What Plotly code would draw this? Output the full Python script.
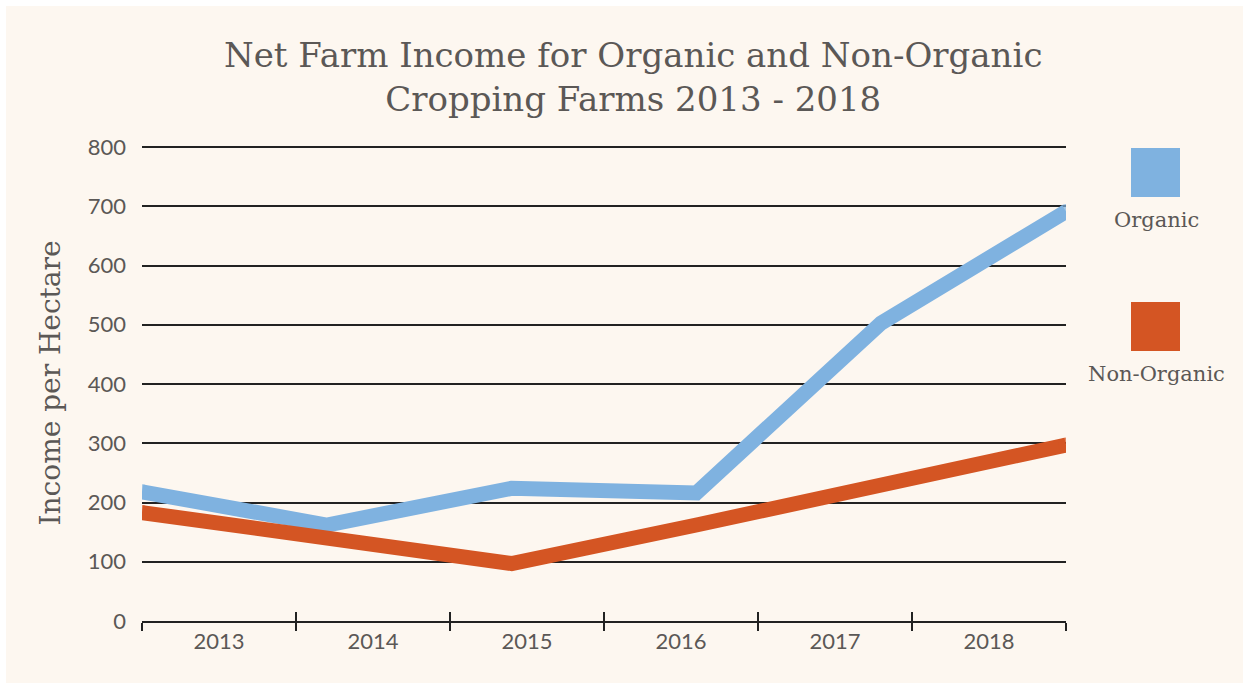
import plotly.graph_objects as go

years = ["2013", "2014", "2015", "2016", "2017", "2018"]
organic = [218, 162, 224, 216, 503, 691]
non_organic = [183, 137, 97, 162, 228, 297]
y_ticks = [0, 100, 200, 300, 400, 500, 600, 700, 800]

CREAM = "#FDF7F0"
GREY = "#5B5856"
BLUE = "#7FB2E0"
ORANGE = "#D45523"
SERIF = "DejaVu Serif, serif"
SANS = "Lato, Open Sans, sans-serif"

fig = go.Figure()

# dummy traces so the label axis (x) and the inner-tick axis (x3) render
fig.add_trace(go.Scatter(x=years, y=[None] * 6, xaxis="x", yaxis="y",
                         showlegend=False, hoverinfo="skip"))
fig.add_trace(go.Scatter(x=years, y=[None] * 6, xaxis="x3", yaxis="y",
                         showlegend=False, hoverinfo="skip"))

for name, vals, col in [("Organic", organic, BLUE), ("Non-Organic", non_organic, ORANGE)]:
    fig.add_trace(go.Scatter(
        x=years, y=vals, name=name, xaxis="x2", yaxis="y",
        mode="lines+markers",
        line=dict(color=col, width=15),
        marker=dict(color=col, size=[15, 0, 0, 0, 0, 15], line=dict(width=0)),
        showlegend=False, hoverinfo="x+y+name",
    ))

# plot area: bottom (value 0) at 621 px, value 800 at 147 px; add 2 px headroom on top
PLOT_TOP = 145
PLOT_BOT = 621
px_per_unit = (621 - 147) / 800
y_top = 800 + (147 - PLOT_TOP) / px_per_unit

def px_to_paper_y(py):
    return (PLOT_BOT - py) / (PLOT_BOT - PLOT_TOP)

def px_to_paper_x(px):
    return (px - 142) / 924

eps = 0.0008
fig.update_layout(
    width=1243, height=683,
    margin=dict(l=142, r=177, t=PLOT_TOP, b=683 - PLOT_BOT),
    paper_bgcolor="white",
    plot_bgcolor="rgba(0,0,0,0)",
    xaxis=dict(
        type="category", categoryorder="array", categoryarray=years,
        range=[-0.5 - eps, 5.5 + eps], tickson="boundaries", ticks="outside",
        ticklen=8, tickwidth=1.5, tickcolor="#222",
        showline=True, linecolor="#222", linewidth=2,
        showgrid=False, zeroline=False,
        tickfont=dict(family=SANS, size=22, color=GREY),
        fixedrange=True,
    ),
    xaxis3=dict(
        type="category", categoryorder="array", categoryarray=years,
        range=[-0.5 - eps, 5.5 + eps], tickson="boundaries", ticks="inside",
        ticklen=9, tickwidth=1.5, tickcolor="#222",
        overlaying="x", anchor="y", side="bottom",
        showticklabels=False, showgrid=False, zeroline=False, showline=False,
        fixedrange=True,
    ),
    xaxis2=dict(
        type="category", categoryorder="array", categoryarray=years,
        range=[0, 5], overlaying="x", anchor="y", visible=False,
        fixedrange=True,
    ),
    yaxis=dict(
        range=[0, y_top], tickvals=y_ticks,
        showgrid=True, gridcolor="#222", gridwidth=1.5,
        zeroline=False, showline=False, ticks="",
        ticklabelstandoff=15,
        tickfont=dict(family=SANS, size=22, color=GREY),
        title=dict(text="Income per Hectare", standoff=18,
                   font=dict(family=SERIF, size=28, color=GREY)),
        fixedrange=True,
    ),
)

# title as a centred annotation
fig.add_annotation(
    xref="paper", yref="paper", x=px_to_paper_x(633), y=px_to_paper_y(77),
    text="Net Farm Income for Organic and Non-Organic<br>Cropping Farms 2013 - 2018",
    showarrow=False, xanchor="center", yanchor="middle",
    font=dict(family=SERIF, size=34, color=GREY),
)

# cream backdrop (image has a thin white border on top/left)
fig.add_shape(type="rect", xref="paper", yref="paper",
              x0=px_to_paper_x(6), x1=1.3, y0=-0.2, y1=px_to_paper_y(6),
              fillcolor=CREAM, line=dict(width=0), layer="below")

# custom legend: squares above labels
legend_items = [("Organic", BLUE), ("Non-Organic", ORANGE)]
for i, (name, col) in enumerate(legend_items):
    top_px = 148 + i * 154
    fig.add_shape(type="rect", xref="paper", yref="paper",
                  x0=px_to_paper_x(1131), x1=px_to_paper_x(1180),
                  y0=px_to_paper_y(top_px + 49), y1=px_to_paper_y(top_px),
                  fillcolor=col, line=dict(width=0))
    fig.add_annotation(xref="paper", yref="paper",
                       x=px_to_paper_x(1156), y=px_to_paper_y(top_px + 72),
                       text=name, showarrow=False, xanchor="center", yanchor="middle",
                       font=dict(family=SERIF, size=21, color=GREY))

fig.write_html("out.html")
